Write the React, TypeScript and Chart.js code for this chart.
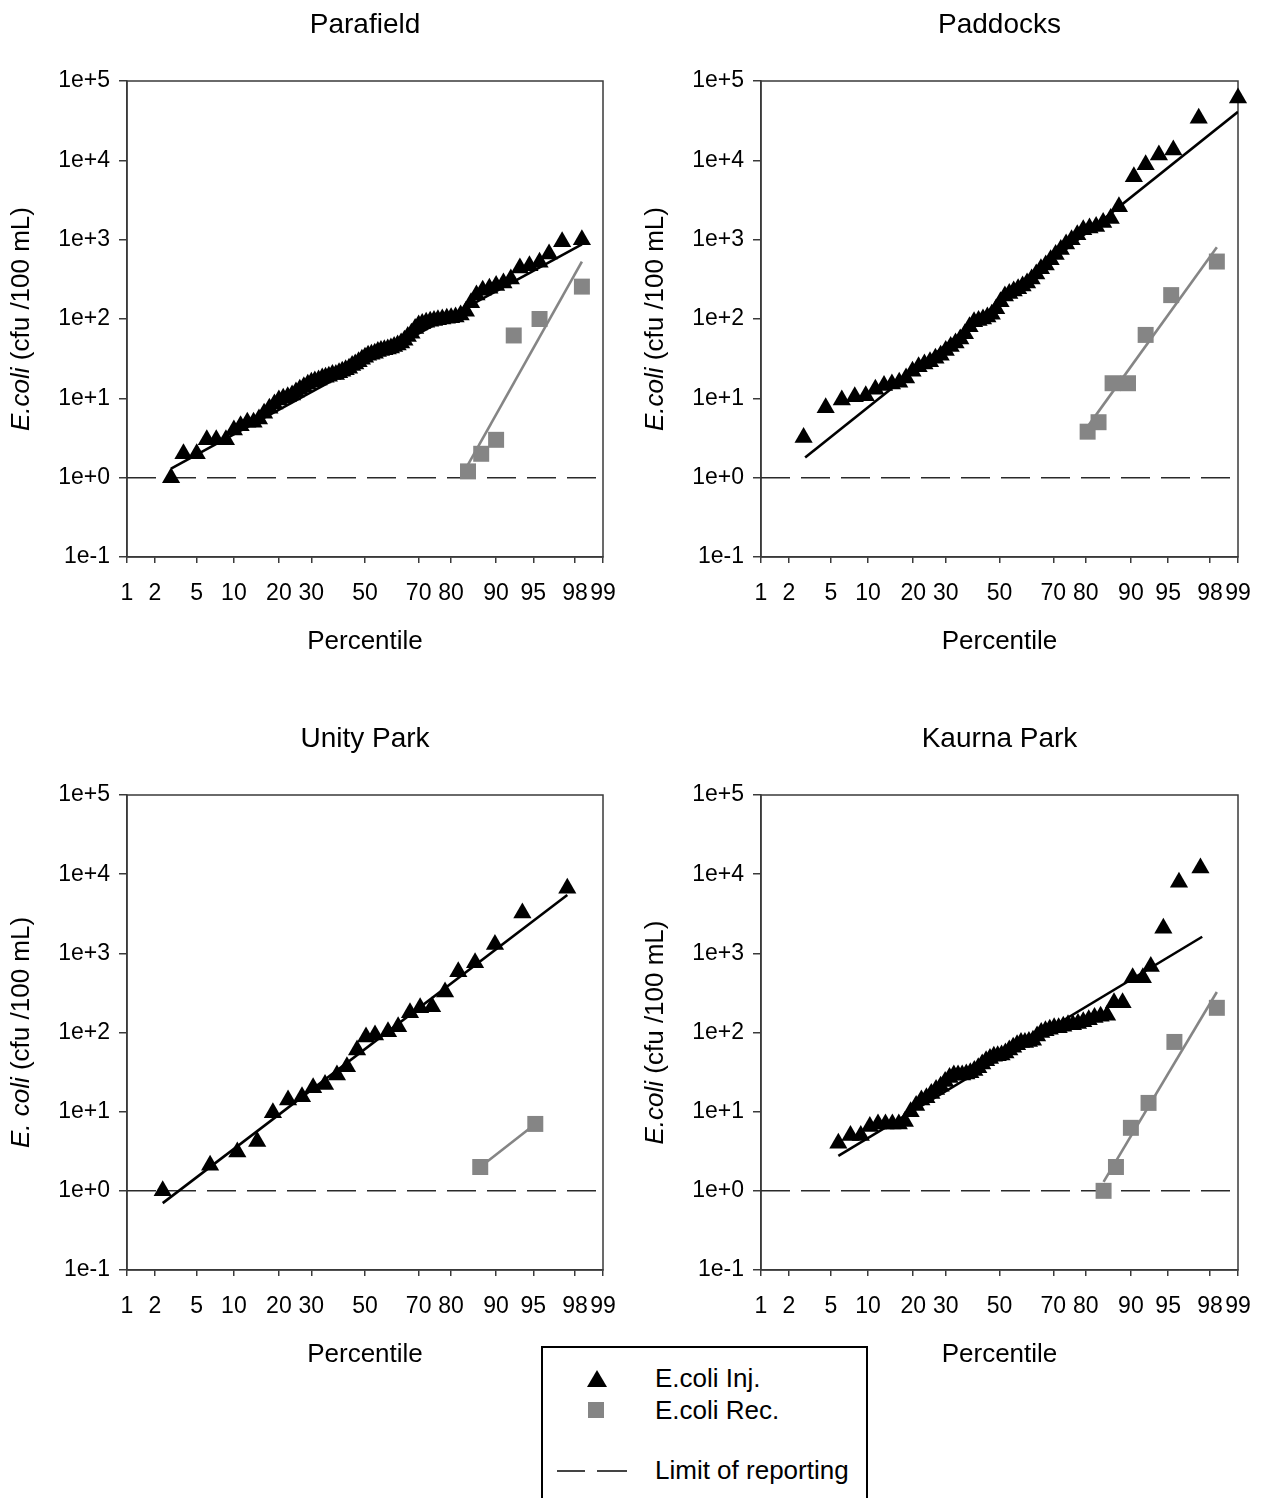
import React, { useEffect, useRef } from 'react';
import { Chart, registerables } from 'chart.js';

Chart.register(...registerables);

const FONT = '"Liberation Sans", Arial, Helvetica, sans-serif';

// ---------- axes ----------
const X_TICKS = [1, 2, 5, 10, 20, 30, 50, 70, 80, 90, 95, 98, 99];
const Y_TICKS = [0.1, 1, 10, 100, 1000, 10000, 100000];
const Y_TICK_LABELS = ['1e-1', '1e+0', '1e+1', '1e+2', '1e+3', '1e+4', '1e+5'];
const X_TITLE = 'Percentile';
const LIMIT_OF_REPORTING = 1;

// ---------- Parafield ----------
const PARA_INJ_PCT = [
  2.9, 3.8, 5.0, 6.1, 7.3, 8.7, 10.0, 11.2, 12.5, 13.8,
  15.0, 16.2, 17.5, 18.8, 20.0, 21.2, 22.5, 23.8, 25.0, 26.2,
  27.5, 28.8, 30.0, 31.2, 32.5, 33.8, 35.0, 36.2, 37.5, 38.8,
  40.0, 41.2, 42.5, 43.8, 45.0, 46.2, 47.5, 48.8, 50.0, 51.2,
  52.5, 53.8, 55.0, 56.2, 57.5, 58.8, 60.0, 61.2, 62.5, 63.8,
  65.0, 66.2, 67.5, 68.8, 70.0, 71.2, 72.5, 73.8, 75.0, 76.2,
  77.5, 78.8, 80.0, 81.2, 82.5, 83.8, 85.0, 86.2, 87.5, 88.8,
  90.0, 91.2, 92.3, 93.5, 94.6, 95.6, 96.4, 97.3, 98.3,
];
const PARA_INJ_VAL = [
  1, 2, 2, 3, 3, 3, 4, 4.5, 5, 5,
  5.5, 6.5, 7.5, 8.5, 9.5, 10, 10.5, 11, 12, 13,
  14, 15, 16, 16.5, 17, 18, 18.5, 19, 20, 20,
  21, 22, 23, 24, 26, 27, 29, 31, 33, 35,
  36, 37, 39, 40, 41, 42, 43, 45, 47, 50,
  54, 60, 66, 76, 84, 88, 91, 94, 96, 98,
  100, 102, 104, 106, 112, 125, 160, 200, 230, 245,
  265, 285, 320, 440, 470, 520, 660, 940, 1000,
];
const PARA_INJ_FIT_PCT = [2.9, 98.3];
const PARA_INJ_FIT_VAL = [1.3, 870];
const PARA_REC_PCT = [84.3, 87.2, 90.0, 92.7, 95.6, 98.3];
const PARA_REC_VAL = [1.2, 2.0, 3.0, 62, 100, 256];
const PARA_REC_FIT_PCT = [84.3, 98.3];
const PARA_REC_FIT_VAL = [1.46, 530];

// ---------- Paddocks ----------
const PADD_INJ_PCT = [
  2.8, 4.5, 6.2, 7.9, 9.6, 11.3, 13.0, 14.7, 16.4, 18.1,
  19.8, 21.5, 23.2, 24.9, 26.6, 28.3, 30.0, 31.7, 33.4, 35.1,
  36.8, 38.5, 40.2, 41.9, 43.6, 45.3, 47.0, 48.7, 50.4, 52.1,
  53.8, 55.5, 57.2, 58.9, 60.6, 62.3, 64.0, 65.7, 67.4, 69.1,
  70.8, 72.5, 74.2, 75.9, 77.6, 79.3, 81.0, 82.7, 84.4, 86.1,
  87.8, 90.5, 92.3, 94.0, 95.5, 97.4, 99.0,
];
const PADD_INJ_VAL = [
  3.2, 7.6, 9.5, 10.5, 10.8, 13, 14.5, 15.2, 16, 18,
  22, 25, 27, 29, 32, 35, 40, 45, 50, 56,
  65, 80, 92, 96, 100, 106, 115, 135, 165, 195,
  210, 225, 240, 260, 285, 320, 370, 430, 480, 560,
  650, 750, 880, 1000, 1150, 1330, 1400, 1470, 1650, 1850,
  2600, 6200, 8800, 11700, 13500, 34000, 61000,
];
const PADD_INJ_FIT_PCT = [2.9, 99.0];
const PADD_INJ_FIT_VAL = [1.79, 41000];
const PADD_REC_PCT = [80.5, 83.3, 86.5, 89.5, 92.3, 95.3, 98.3];
const PADD_REC_VAL = [3.8, 5.0, 15.5, 15.5, 63, 200, 530];
const PADD_REC_FIT_PCT = [80.5, 98.3];
const PADD_REC_FIT_VAL = [4.4, 800];

// ---------- Unity Park ----------
const UNITY_INJ_PCT = [
  2.4, 6.5, 10.6, 14.6, 18.4, 22.6, 26.9, 30.6, 34.8, 39.2,
  43.0, 46.9, 50.4, 53.9, 58.9, 62.7, 67.0, 70.5, 74.4, 78.3,
  81.9, 85.9, 89.8, 93.8, 97.6,
];
const UNITY_INJ_VAL = [
  1, 2.1, 3.1, 4.2, 9.7, 14, 15.4, 20, 22, 29,
  37, 60, 88, 93, 102, 118, 177, 205, 211, 325,
  585, 760, 1290, 3240, 6640,
];
const UNITY_INJ_FIT_PCT = [2.4, 97.6];
const UNITY_INJ_FIT_VAL = [0.7, 5450];
const UNITY_REC_PCT = [87.0, 95.2];
const UNITY_REC_VAL = [2.0, 7.0];
const UNITY_REC_FIT_PCT = [87.0, 95.2];
const UNITY_REC_FIT_VAL = [2.0, 7.0];

// ---------- Kaurna Park ----------
const KAUR_INJ_PCT = [
  5.8, 7.3, 8.8, 10.3, 11.8, 13.3, 14.8, 16.3, 17.8, 19.3,
  20.8, 22.3, 23.8, 25.3, 26.8, 28.3, 29.8, 31.3, 32.8, 34.3,
  35.8, 37.3, 38.8, 40.3, 41.8, 43.3, 44.8, 46.3, 47.8, 49.3,
  50.8, 52.3, 53.8, 55.3, 56.8, 58.3, 59.8, 61.3, 62.8, 64.3,
  65.8, 67.3, 68.8, 70.3, 71.8, 73.3, 74.8, 76.3, 77.8, 79.3,
  80.8, 82.3, 83.8, 85.3, 86.8, 88.5, 90.3, 91.9, 93.0, 94.5,
  96.0, 97.5,
];
const KAUR_INJ_VAL = [
  4, 5, 5, 6.5, 7, 7, 7, 7, 7.5, 10,
  12, 14, 15, 17, 19, 21, 24, 27, 29, 29,
  29, 30, 31, 33, 36, 40, 44, 47, 50, 51,
  52, 55, 60, 65, 70, 75, 75, 77, 80, 90,
  100, 105, 110, 115, 115, 120, 125, 125, 130, 137,
  145, 155, 160, 165, 237, 237, 490, 490, 680, 2070,
  7900, 12000,
];
const KAUR_INJ_FIT_PCT = [5.8, 97.6];
const KAUR_INJ_FIT_VAL = [2.77, 1620];
const KAUR_REC_PCT = [84.5, 87.2, 90.0, 92.7, 95.6, 98.3];
const KAUR_REC_VAL = [1.0, 2.0, 6.25, 12.9, 76, 205];
const KAUR_REC_FIT_PCT = [84.5, 98.3];
const KAUR_REC_FIT_VAL = [1.3, 325];

// ---------- helpers ----------
const A = [-3.969683028665376e1, 2.209460984245205e2, -2.759285104469687e2, 1.38357751867269e2, -3.066479806614716e1, 2.506628277459239];
const B = [-5.447609879822406e1, 1.615858368580409e2, -1.556989798598866e2, 6.680131188771972e1, -1.328068155288572e1];
const C = [-7.784894002430293e-3, -3.223964580411365e-1, -2.400758277161838, -2.549671010229528, 4.374664141464968, 2.938163982698783];
const D = [7.784695709041462e-3, 3.224671290700398e-1, 2.445134137142996, 3.754408661907416];

function probit(pct: number): number {
  const p = pct / 100;
  const pl = 0.02425;
  if (p < pl) {
    const q = Math.sqrt(-2 * Math.log(p));
    return (((((C[0] * q + C[1]) * q + C[2]) * q + C[3]) * q + C[4]) * q + C[5]) /
      ((((D[0] * q + D[1]) * q + D[2]) * q + D[3]) * q + 1);
  }
  if (p <= 1 - pl) {
    const q = p - 0.5;
    const r = q * q;
    return ((((((A[0] * r + A[1]) * r + A[2]) * r + A[3]) * r + A[4]) * r + A[5]) * q) /
      (((((B[0] * r + B[1]) * r + B[2]) * r + B[3]) * r + B[4]) * r + 1);
  }
  const q = Math.sqrt(-2 * Math.log(1 - p));
  return -(((((C[0] * q + C[1]) * q + C[2]) * q + C[3]) * q + C[4]) * q + C[5]) /
    ((((D[0] * q + D[1]) * q + D[2]) * q + D[3]) * q + 1);
}

function pts(pcts: number[], vals: number[]) {
  return pcts.map((p, i) => ({ x: probit(p), y: vals[i] }));
}

type PanelCfg = {
  title: string;
  yItalic: string;
  yRest: string;
  plotLeft: number;
  plotTop: number;
  plotRight: number;
  plotBottom: number;
  injPct: number[];
  injVal: number[];
  injFitPct: number[];
  injFitVal: number[];
  recPct: number[];
  recVal: number[];
  recFitPct: number[];
  recFitVal: number[];
};

const PANELS: PanelCfg[] = [
  {
    title: 'Parafield', yItalic: 'E.coli', yRest: ' (cfu /100 mL)',
    plotLeft: 127, plotTop: 81, plotRight: 603, plotBottom: 557,
    injPct: PARA_INJ_PCT, injVal: PARA_INJ_VAL, injFitPct: PARA_INJ_FIT_PCT, injFitVal: PARA_INJ_FIT_VAL,
    recPct: PARA_REC_PCT, recVal: PARA_REC_VAL, recFitPct: PARA_REC_FIT_PCT, recFitVal: PARA_REC_FIT_VAL,
  },
  {
    title: 'Paddocks', yItalic: 'E.coli', yRest: ' (cfu /100 mL)',
    plotLeft: 761, plotTop: 81, plotRight: 1238, plotBottom: 557,
    injPct: PADD_INJ_PCT, injVal: PADD_INJ_VAL, injFitPct: PADD_INJ_FIT_PCT, injFitVal: PADD_INJ_FIT_VAL,
    recPct: PADD_REC_PCT, recVal: PADD_REC_VAL, recFitPct: PADD_REC_FIT_PCT, recFitVal: PADD_REC_FIT_VAL,
  },
  {
    title: 'Unity Park', yItalic: 'E. coli', yRest: ' (cfu /100 mL)',
    plotLeft: 127, plotTop: 795, plotRight: 603, plotBottom: 1270,
    injPct: UNITY_INJ_PCT, injVal: UNITY_INJ_VAL, injFitPct: UNITY_INJ_FIT_PCT, injFitVal: UNITY_INJ_FIT_VAL,
    recPct: UNITY_REC_PCT, recVal: UNITY_REC_VAL, recFitPct: UNITY_REC_FIT_PCT, recFitVal: UNITY_REC_FIT_VAL,
  },
  {
    title: 'Kaurna Park', yItalic: 'E.coli', yRest: ' (cfu /100 mL)',
    plotLeft: 761, plotTop: 795, plotRight: 1238, plotBottom: 1270,
    injPct: KAUR_INJ_PCT, injVal: KAUR_INJ_VAL, injFitPct: KAUR_INJ_FIT_PCT, injFitVal: KAUR_INJ_FIT_VAL,
    recPct: KAUR_REC_PCT, recVal: KAUR_REC_VAL, recFitPct: KAUR_REC_FIT_PCT, recFitVal: KAUR_REC_FIT_VAL,
  },
];

const Y_AXIS_W = 127;
const TOP_PAD = 81;
const RIGHT_PAD = 30;
const X_AXIS_H = 123;
const AXIS_COLOR = '#3a3a3a';
const REC_COLOR = '#858585';

function Panel({ cfg }: { cfg: PanelCfg }) {
  const ref = useRef<HTMLCanvasElement | null>(null);
  const left = cfg.plotLeft - Y_AXIS_W;
  const top = cfg.plotTop - TOP_PAD;
  const width = cfg.plotRight - left + RIGHT_PAD;
  const height = cfg.plotBottom - top + X_AXIS_H;

  useEffect(() => {
    if (!ref.current) return;
    const decor = {
      id: 'decor',
      beforeDatasetsDraw(chart: any) {
        const { ctx, chartArea: a } = chart;
        ctx.save();
        ctx.strokeStyle = AXIS_COLOR;
        ctx.lineWidth = 1.5;
        ctx.strokeRect(a.left, a.top, a.right - a.left, a.bottom - a.top);
        ctx.restore();
      },
      afterDraw(chart: any) {
        const { ctx, chartArea: a } = chart;
        ctx.save();
        ctx.fillStyle = '#000';
        ctx.textBaseline = 'middle';
        ctx.textAlign = 'center';
        const cx = (a.left + a.right) / 2;
        ctx.font = `28px ${FONT}`;
        ctx.fillText(cfg.title, cx, a.top - 56);
        ctx.font = `26px ${FONT}`;
        ctx.fillText(X_TITLE, cx, a.bottom + 85);
        // y title with italic part
        const cy = (a.top + a.bottom) / 2;
        ctx.translate(22, cy);
        ctx.rotate(-Math.PI / 2);
        ctx.textAlign = 'left';
        ctx.font = `italic 26px ${FONT}`;
        const w1 = ctx.measureText(cfg.yItalic).width;
        ctx.font = `26px ${FONT}`;
        const w2 = ctx.measureText(cfg.yRest).width;
        const start = -(w1 + w2) / 2;
        ctx.font = `italic 26px ${FONT}`;
        ctx.fillText(cfg.yItalic, start, 0);
        ctx.font = `26px ${FONT}`;
        ctx.fillText(cfg.yRest, start + w1, 0);
        ctx.restore();
      },
    };

    const xMin = probit(X_TICKS[0]);
    const xMax = probit(X_TICKS[X_TICKS.length - 1]);

    const chart = new Chart(ref.current, {
      type: 'scatter',
      data: {
        datasets: [
          {
            data: pts(cfg.injPct, cfg.injVal),
            pointStyle: 'triangle',
            pointRadius: 10.5,
            backgroundColor: '#000',
            borderColor: '#000',
            borderWidth: 0,
            showLine: false,
            clip: false,
          } as any,
          {
            data: pts(cfg.recPct, cfg.recVal),
            pointStyle: 'rect',
            pointRadius: 11.3,
            backgroundColor: REC_COLOR,
            borderColor: REC_COLOR,
            borderWidth: 0,
            showLine: false,
            clip: false,
          } as any,
          {
            data: pts(cfg.injFitPct, cfg.injFitVal),
            showLine: true,
            pointRadius: 0,
            borderColor: '#000',
            borderWidth: 2.6,
          } as any,
          {
            data: pts(cfg.recFitPct, cfg.recFitVal),
            showLine: true,
            pointRadius: 0,
            borderColor: REC_COLOR,
            borderWidth: 2.6,
          } as any,
          {
            data: [
              { x: xMin, y: LIMIT_OF_REPORTING },
              { x: xMax, y: LIMIT_OF_REPORTING },
            ],
            showLine: true,
            pointRadius: 0,
            borderColor: '#2a2a2a',
            borderWidth: 1.5,
            borderDash: [29, 11],
          } as any,
        ],
      },
      options: {
        animation: false,
        responsive: false,
        devicePixelRatio: 1,
        events: [],
        layout: { padding: { top: TOP_PAD, right: RIGHT_PAD, left: 0, bottom: 0 } },
        plugins: { legend: { display: false }, tooltip: { enabled: false }, title: { display: false } },
        scales: {
          x: {
            type: 'linear',
            min: xMin,
            max: xMax,
            afterBuildTicks: (s: any) => {
              s.ticks = X_TICKS.map((p) => ({ value: probit(p) }));
            },
            afterFit: (s: any) => {
              s.height = X_AXIS_H;
            },
            ticks: {
              autoSkip: false,
              maxRotation: 0,
              minRotation: 0,
              padding: 17,
              color: '#000',
              font: { size: 23, family: FONT },
              callback: (_v: any, i: number) => String(X_TICKS[i]),
            },
            grid: { drawOnChartArea: false, drawTicks: true, tickLength: 6, color: AXIS_COLOR, lineWidth: 1.5 },
            border: { display: true, color: AXIS_COLOR, width: 1.5 },
          },
          y: {
            type: 'logarithmic',
            min: Y_TICKS[0],
            max: Y_TICKS[Y_TICKS.length - 1],
            afterBuildTicks: (s: any) => {
              s.ticks = Y_TICKS.map((v) => ({ value: v, major: true }));
            },
            afterFit: (s: any) => {
              s.width = Y_AXIS_W;
            },
            ticks: {
              padding: 9,
              color: '#000',
              font: { size: 23, family: FONT },
              callback: (_v: any, i: number) => Y_TICK_LABELS[i],
            },
            grid: { drawOnChartArea: false, drawTicks: true, tickLength: 8, color: AXIS_COLOR, lineWidth: 1.5 },
            border: { display: true, color: AXIS_COLOR, width: 1.5 },
          },
        },
      },
      plugins: [decor],
    } as any);
    return () => chart.destroy();
  }, []);

  return (
    <canvas
      ref={ref}
      width={width}
      height={height}
      style={{ position: 'absolute', left, top, width, height }}
    />
  );
}

const LEGEND_ITEMS = ['E.coli Inj.', 'E.coli Rec.', 'Limit of reporting'];

function Legend() {
  const textStyle: React.CSSProperties = {
    position: 'absolute',
    left: 112,
    fontSize: 26,
    lineHeight: '30px',
    fontFamily: FONT,
    color: '#000',
    whiteSpace: 'nowrap',
  };
  return (
    <div
      style={{
        position: 'absolute',
        left: 541,
        top: 1346,
        width: 327,
        height: 160,
        border: '2px solid #000',
        borderBottom: 'none',
        boxSizing: 'border-box',
        background: '#fff',
      }}
    >
      <div
        style={{
          position: 'absolute',
          left: 44,
          top: 22,
          width: 0,
          height: 0,
          borderLeft: '10px solid transparent',
          borderRight: '10px solid transparent',
          borderBottom: '17px solid #000',
        }}
      />
      <div style={{ ...textStyle, top: 15 }}>{LEGEND_ITEMS[0]}</div>
      <div style={{ position: 'absolute', left: 45, top: 54, width: 16, height: 16, background: REC_COLOR }} />
      <div style={{ ...textStyle, top: 47 }}>{LEGEND_ITEMS[1]}</div>
      <div style={{ position: 'absolute', left: 14, top: 122, width: 28, height: 1.5, background: '#444' }} />
      <div style={{ position: 'absolute', left: 54, top: 122, width: 30, height: 1.5, background: '#444' }} />
      <div style={{ ...textStyle, top: 107 }}>{LEGEND_ITEMS[2]}</div>
    </div>
  );
}

export default function App() {
  return (
    <div
      style={{
        position: 'absolute',
        left: 0,
        top: 0,
        width: 1266,
        height: 1498,
        overflow: 'hidden',
        background: '#fff',
      }}
    >
      {PANELS.map((p) => (
        <Panel key={p.title} cfg={p} />
      ))}
      <Legend />
    </div>
  );
}
